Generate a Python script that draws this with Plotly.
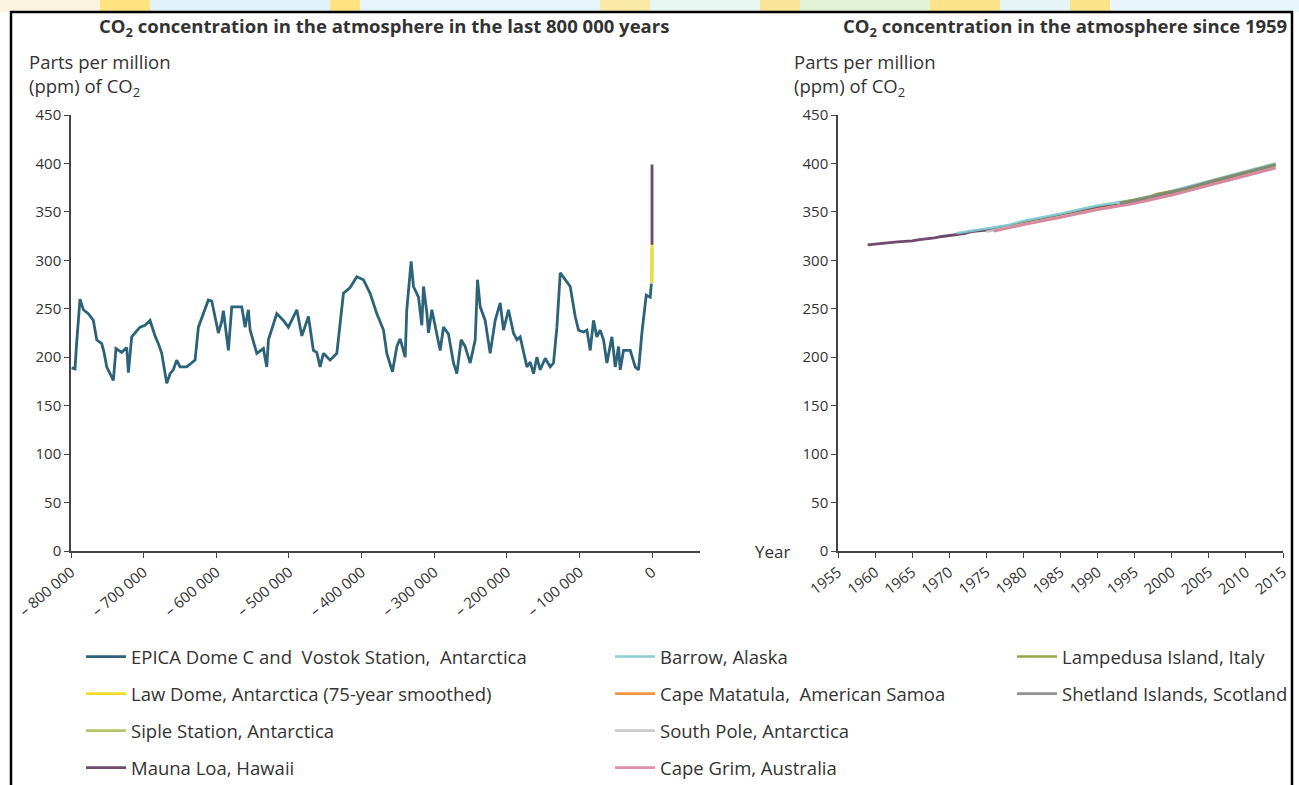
import plotly.graph_objects as go

W, H = 1299, 785

# ---------------- DATA ----------------
# EPICA Dome C and Vostok (years relative to present, ppm)
epica_years = [-799100, -794500, -792200, -787600, -783000, -776100, -769200, -764600, -757700, -754500,
               -750800, -743900, -741700, -738000, -730200, -723300, -721000, -716400, -705000, -698100,
               -691200, -684300, -679700, -675100, -668200, -663600, -659100, -654500, -649900, -640700,
               -629200, -624600, -617800, -610900, -606200, -597100, -592500, -590200, -583300, -578700,
               -564900, -560300, -555800, -553400, -544200, -535100, -530500, -528200, -516700, -507600,
               -500700, -489100, -482200, -473100, -466300, -461600, -457000, -452500, -443300, -434000,
               -424900, -415700, -406500, -397400, -388200, -379000, -369800, -365200, -357400, -351400,
               -346800, -339900, -337700, -331700, -328500, -321600, -317000, -314700, -310100, -307800,
               -303200, -298600, -291700, -287200, -280300, -273400, -268800, -262800, -257300, -250400,
               -243500, -240300, -236600, -229800, -222900, -216000, -209100, -204500, -197700, -190800,
               -186100, -181600, -177000, -172300, -167800, -163200, -158600, -154000, -147100, -140200,
               -135700, -131000, -126400, -119600, -112700, -105800, -101200, -94400, -89700, -85100,
               -80600, -76000, -71400, -66800, -62200, -55300, -50700, -46100, -43800, -39300,
               -30000, -23200, -18600, -14000, -11700, -8000, -2500, -1000]
epica_ppm = [189, 188, 215, 260, 249, 245, 238, 218, 214, 205,
             190, 180, 176, 209, 205, 210, 184, 221, 231, 233,
             238, 222, 214, 204, 173, 183, 187, 197, 190, 190,
             197, 231, 245, 259, 258, 225, 237, 248, 207, 252,
             252, 231, 249, 228, 204, 209, 190, 218, 245, 238,
             231, 249, 222, 242, 207, 205, 190, 204, 197, 204,
             266, 272, 283, 280, 266, 245, 228, 204, 185, 211,
             219, 200, 249, 299, 273, 262, 233, 273, 246, 225,
             249, 231, 207, 231, 224, 194, 183, 218, 211, 194,
             218, 280, 252, 238, 204, 238, 256, 228, 249, 225,
             218, 221, 204, 190, 195, 183, 200, 187, 199, 190,
             194, 231, 287, 280, 273, 242, 228, 226, 228, 207,
             238, 221, 228, 218, 194, 221, 190, 211, 187, 207,
             207, 190, 187, 225, 238, 264, 262, 276]

# Law Dome (75-year smoothed), years relative to present
lawdome_years = [-1000, -800, -600, -400, -300, -200, -150, -100, -80, -60, -40]
lawdome_ppm = [279, 280, 281, 279, 277, 281, 285, 296, 302, 311, 318]

# Siple Station
siple_years = [-270, -220, -170, -120, -90, -62]
siple_ppm = [277, 279, 284, 296, 305, 313]

# Mauna Loa, Hawaii (annual means)
ml_years = list(range(1959, 2015))
ml_ppm = [316.0, 316.9, 317.6, 318.5, 319.0, 319.6, 320.0, 321.4, 322.2, 323.1,
          324.6, 325.7, 326.3, 327.5, 329.7, 330.2, 331.1, 332.0, 333.8, 335.4,
          336.8, 338.8, 340.1, 341.5, 343.2, 344.9, 346.4, 347.6, 349.3, 351.7,
          353.2, 354.5, 355.7, 356.5, 357.2, 359.0, 361.0, 362.7, 363.9, 366.8,
          368.5, 369.7, 371.3, 373.5, 376.0, 377.7, 380.0, 382.1, 384.0, 385.8,
          387.6, 390.1, 391.9, 394.1, 396.7, 398.9]

barrow_years = [1971, 1973, 1975, 1978, 1980, 1985, 1990, 1995, 2000, 2005, 2010, 2014]
barrow_ppm = [328.0, 330.5, 333.5, 336.5, 340.5, 348.0, 356.5, 362.5, 371.5, 381.5, 392.0, 400.0]

matatula_years = [1976, 1980, 1985, 1990, 1995, 2000, 2005, 2010, 2014]
matatula_ppm = [330.5, 337.5, 345.0, 353.0, 359.5, 368.0, 378.0, 388.0, 396.0]

southpole_years = [1975, 1980, 1985, 1990, 1995, 2000, 2005, 2010, 2014]
southpole_ppm = [329.5, 337.0, 344.5, 352.5, 359.0, 367.5, 377.5, 387.5, 395.5]

capegrim_years = [1976, 1980, 1985, 1990, 1995, 2000, 2005, 2010, 2014]
capegrim_ppm = [330.0, 336.8, 344.2, 352.2, 358.8, 367.2, 377.2, 387.2, 395.2]

lampedusa_years = [1993, 1995, 1997, 1998, 2000, 2002, 2005, 2010, 2014]
lampedusa_ppm = [359.5, 362.5, 365.5, 368.5, 371.5, 374.0, 381.0, 391.0, 399.0]

shetland_years = [1993, 1995, 2000, 2005, 2010, 2014]
shetland_ppm = [358.5, 361.5, 370.5, 380.5, 390.5, 398.5]

left_tickvals = [-800000, -700000, -600000, -500000, -400000, -300000, -200000, -100000, 0]
left_ticktext = ["\u2013 800 000", "\u2013 700 000", "\u2013 600 000", "\u2013 500 000", "\u2013 400 000",
                 "\u2013 300 000", "\u2013 200 000", "\u2013 100 000", "0"]
right_tickvals = list(range(1955, 2020, 5))
y_tickvals = list(range(0, 500, 50))

# ---------------- COLOURS ----------------
C_EPICA = "#2d6378"
C_LAW = "#f2dc2a"
C_SIPLE = "#b3c46a"
C_ML = "#6e4a6c"
C_BARROW = "#7ccaca"
C_MATATULA = "#f08a2e"
C_SOUTH = "#c4c4c4"
C_GRIM = "#d9839e"
C_LAMP = "#8c9a32"
C_SHET = "#858585"

FONT = "Open Sans"
TXT = "#333333"
BIG = 18.5


def px_x(p):
    return p / W


def px_y(p):
    return 1 - p / H


fig = go.Figure()

# left panel traces (Siple drawn first so the Law Dome yellow stays on top)
fig.add_trace(go.Scatter(x=epica_years, y=epica_ppm, mode="lines", name="EPICA Dome C and  Vostok Station,  Antarctica",
                         line=dict(color=C_EPICA, width=2.8), xaxis="x", yaxis="y", legend="legend",
                         legendgroup="g1", legendrank=1))
fig.add_trace(go.Scatter(x=siple_years, y=siple_ppm, mode="lines", name="Siple Station, Antarctica",
                         line=dict(color=C_SIPLE, width=2.8), xaxis="x", yaxis="y", legend="legend",
                         legendgroup="g3", legendrank=3))
fig.add_trace(go.Scatter(x=lawdome_years, y=lawdome_ppm, mode="lines", name="Law Dome, Antarctica (75-year smoothed)",
                         line=dict(color=C_LAW, width=2.8), xaxis="x", yaxis="y", legend="legend",
                         legendgroup="g2", legendrank=2))
fig.add_trace(go.Scatter(x=[y - 2015 for y in ml_years], y=ml_ppm, mode="lines", name="Mauna Loa, Hawaii",
                         line=dict(color=C_ML, width=2.8), xaxis="x", yaxis="y", showlegend=False,
                         legendgroup="g4"))

# right panel traces
fig.add_trace(go.Scatter(x=ml_years, y=ml_ppm, mode="lines", name="Mauna Loa, Hawaii",
                         line=dict(color=C_ML, width=2.8), xaxis="x2", yaxis="y2", legend="legend",
                         legendgroup="g4", legendrank=4))
right_series = [
    ("Barrow, Alaska", barrow_years, barrow_ppm, C_BARROW, "legend2"),
    ("Cape Matatula,  American Samoa", matatula_years, matatula_ppm, C_MATATULA, "legend2"),
    ("South Pole, Antarctica", southpole_years, southpole_ppm, C_SOUTH, "legend2"),
    ("Cape Grim, Australia", capegrim_years, capegrim_ppm, C_GRIM, "legend2"),
    ("Lampedusa Island, Italy", lampedusa_years, lampedusa_ppm, C_LAMP, "legend3"),
    ("Shetland Islands, Scotland", shetland_years, shetland_ppm, C_SHET, "legend3"),
]
for i, (nm, xs, ys, col, lg) in enumerate(right_series):
    fig.add_trace(go.Scatter(x=xs, y=ys, mode="lines", name=nm, line=dict(color=col, width=2.6),
                             opacity=0.9, xaxis="x2", yaxis="y2", legend=lg, legendgroup="r%d" % i,
                             legendrank=10 + i))

axis_common = dict(showline=True, linecolor="#444444", linewidth=1.5, ticks="outside", ticklen=5,
                   tickcolor="#444444", tickwidth=1.2, showgrid=False, zeroline=False, automargin=False)
xtick_font = dict(family=FONT, size=15, color=TXT)
ytick_font = dict(family=FONT, size=15, color=TXT)

legend_common = dict(xanchor="left", yanchor="top", orientation="v", xref="container", yref="container",
                     font=dict(family=FONT, size=BIG, color=TXT), tracegroupgap=10, itemwidth=40,
                     bgcolor="rgba(0,0,0,0)")

y_top, y_bot = 115, 551
fig.update_layout(
    width=W, height=H,
    margin=dict(l=0, r=0, t=0, b=0, autoexpand=False),
    paper_bgcolor="white", plot_bgcolor="white",
    font=dict(family=FONT, color=TXT),
    xaxis=dict(domain=[px_x(71), px_x(700)], range=[-800000, 66000], tickvals=left_tickvals,
               ticktext=left_ticktext, tickangle=-40, anchor="y", tickfont=xtick_font, **axis_common),
    yaxis=dict(domain=[px_y(y_bot), px_y(y_top)], range=[0, 450], tickvals=y_tickvals, anchor="x",
               tickfont=ytick_font, **axis_common),
    xaxis2=dict(domain=[px_x(838), px_x(1283)], range=[1955, 2015], tickvals=right_tickvals,
                tickangle=-38, anchor="y2", tickfont=xtick_font, **axis_common),
    yaxis2=dict(domain=[px_y(y_bot), px_y(y_top)], range=[0, 450], tickvals=y_tickvals, anchor="x2",
                tickfont=ytick_font, **axis_common),
    showlegend=True,
    legend=dict(x=px_x(81), y=px_y(638), **legend_common),
    legend2=dict(x=px_x(610), y=px_y(638), **legend_common),
    legend3=dict(x=px_x(1012), y=px_y(638), **legend_common),
)

annotations = [
    dict(text="<b>CO<sub>2</sub> concentration in the atmosphere in the last 800 000 years</b>",
         x=px_x(384), y=px_y(27), xanchor="center", yanchor="middle", font=dict(size=BIG)),
    dict(text="<b>CO<sub>2</sub> concentration in the atmosphere since 1959</b>",
         x=px_x(1289), y=px_y(27), xanchor="right", yanchor="middle", font=dict(size=BIG)),
    dict(text="Parts per million<br>(ppm) of CO<sub>2</sub>", x=px_x(27), y=px_y(47),
         xanchor="left", yanchor="top", align="left", font=dict(size=BIG)),
    dict(text="Parts per million<br>(ppm) of CO<sub>2</sub>", x=px_x(792), y=px_y(47),
         xanchor="left", yanchor="top", align="left", font=dict(size=BIG)),
    dict(text="Year", x=px_x(772), y=px_y(551), xanchor="center", yanchor="middle", font=dict(size=17)),
]
for a in annotations:
    a.update(xref="paper", yref="paper", showarrow=False)
    a["font"].update(family=FONT, color=TXT)
fig.update_layout(annotations=annotations)

# decorative banner across the top and the frame
banner = [(0, 100, "#fcf3e0"), (100, 150, "#ffe37e"), (150, 330, "#e0f3fb"), (330, 360, "#ffe37e"),
          (360, 600, "#e5f5fb"), (600, 650, "#fbe9aa"), (650, 760, "#e8f6f2"), (760, 800, "#f9e49a"),
          (800, 930, "#e4f2d6"), (930, 1000, "#fbe38a"), (1000, 1070, "#e6f4f7"), (1070, 1110, "#fbe38a"),
          (1110, 1299, "#e8f6fb")]
shapes = []
for x0, x1, col in banner:
    shapes.append(dict(type="rect", xref="paper", yref="paper", x0=px_x(x0), x1=px_x(x1), y0=px_y(12),
                       y1=1, fillcolor=col, line=dict(width=0), layer="below"))
shapes += [
    dict(type="line", xref="paper", yref="paper", x0=px_x(11), x1=px_x(11), y0=0, y1=px_y(11),
         line=dict(color="black", width=2.5)),
    dict(type="line", xref="paper", yref="paper", x0=px_x(10), x1=px_x(1293), y0=px_y(12), y1=px_y(12),
         line=dict(color="black", width=2.5)),
    dict(type="line", xref="paper", yref="paper", x0=px_x(1292), x1=px_x(1292), y0=0, y1=px_y(11),
         line=dict(color="black", width=2.5)),
]
fig.update_layout(shapes=shapes)

fig.write_html("out.html", config={"displayModeBar": False},
               post_script="document.body.style.margin='0px';")
